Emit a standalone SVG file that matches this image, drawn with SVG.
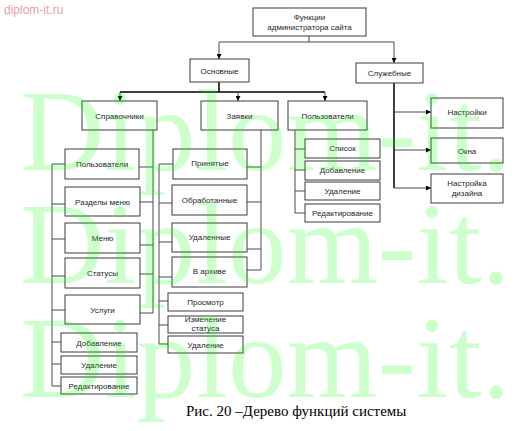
<svg xmlns="http://www.w3.org/2000/svg" width="516" height="431" viewBox="0 0 516 431">
<defs>
<style>
.box{fill:#fff;stroke:#3a3a3a;stroke-width:1}
.t{font-family:"Liberation Sans",Arial,sans-serif;font-size:8px;fill:#262626;text-anchor:middle}
.c{stroke:#4a4a4a;stroke-width:1;fill:none}
.ct{stroke:#000;stroke-width:1.5;fill:none}
.wm{font-family:"Liberation Serif","Times New Roman",serif;font-size:117px;fill:#00ff00;fill-opacity:0.2}
</style>
<marker id="ah" viewBox="0 0 6 6" refX="6" refY="3" markerWidth="5" markerHeight="5" markerUnits="userSpaceOnUse" orient="auto">
<path d="M0,0 L6,3 L0,6 z" fill="#000"/>
</marker>
</defs>
<rect width="516" height="431" fill="#fff"/>
<text x="4" y="14" style="font-family:'Liberation Sans',Arial,sans-serif;font-size:12px;fill:#e8a0a0">diplom-it.ru</text>

<g id="connectors">
<path class="c" d="M309,36 V42 M219,42 H394"/>
<path class="c" d="M219,42 V59" marker-end="url(#ah)"/>
<path class="c" d="M394,42 V63" marker-end="url(#ah)"/>
<path class="ct" d="M219,82 V92 M120,92 H325"/>
<path class="c" d="M120,92 V101" marker-end="url(#ah)"/>
<path class="c" d="M238,92 V101" marker-end="url(#ah)"/>
<path class="c" d="M325,92 V101" marker-end="url(#ah)"/>
<path class="ct" d="M394,83 V188"/>
<path class="c" d="M394,112 H431" marker-end="url(#ah)"/>
<path class="c" d="M394,150 H431" marker-end="url(#ah)"/>
<path class="c" d="M394,188 H431" marker-end="url(#ah)"/>
<path class="c" d="M153,130 V313 M139,167 H153 M140,202 H153 M140,245 H153 M140,274 H153 M140,313 H153"/>
<path class="c" d="M52,164 V386 M52,164 H65 M52,204 H65 M52,239 H65 M52,276 H65 M52,310 H65 M52,342 H61 M52,364 H61 M52,386 H61"/>
<path class="c" d="M261,130 V270 M247,167 H261 M247,202 H261 M247,249 H261 M247,270 H261"/>
<path class="c" d="M159,164 V344 M159,164 H173 M159,203 H172 M159,242 H172 M159,277 H172 M159,301 H168 M159,325 H168 M159,344 H168"/>
<path class="c" d="M295,130 V213 M295,149 H305 M295,170 H305 M295,191 H305 M295,213 H305"/>
</g>

<g id="n-root"><rect class="box" x="253" y="8" width="113" height="28"/><text class="t" x="309.5" y="20">Функции</text><text class="t" x="309.5" y="30">администратора сайта</text></g>
<g id="n-osn"><rect class="box" x="190" y="59" width="59" height="23"/><text class="t" x="219.5" y="73.5">Основные</text></g>
<g id="n-sluzh"><rect class="box" x="356" y="63" width="67" height="20"/><text class="t" x="389.5" y="76">Служебные</text></g>
<g id="n-sprav"><rect class="box" x="82" y="101" width="75" height="29"/><text class="t" x="119.5" y="118.5">Справочники</text></g>
<g id="n-zayav"><rect class="box" x="201" y="101" width="77" height="29"/><text class="t" x="239.5" y="118.5">Заявки</text></g>
<g id="n-polz"><rect class="box" x="288" y="101" width="79" height="29"/><text class="t" x="327.5" y="118.5">Пользователи</text></g>

<g id="n-s1"><rect class="box" x="65" y="149" width="74" height="30"/><text class="t" x="102" y="167">Пользователи</text></g>
<g id="n-s2"><rect class="box" x="65" y="187" width="75" height="29"/><text class="t" x="102.5" y="204.5">Разделы меню</text></g>
<g id="n-s3"><rect class="box" x="65" y="223" width="75" height="30"/><text class="t" x="102.5" y="241">Меню</text></g>
<g id="n-s4"><rect class="box" x="65" y="258" width="75" height="30"/><text class="t" x="102.5" y="276">Статусы</text></g>
<g id="n-s5"><rect class="box" x="65" y="295" width="75" height="29"/><text class="t" x="102.5" y="312.5">Услуги</text></g>
<g id="n-s6"><rect class="box" x="61" y="333" width="76" height="19"/><text class="t" x="99" y="345.5">Добавление</text></g>
<g id="n-s7"><rect class="box" x="61" y="356" width="76" height="18"/><text class="t" x="99" y="368">Удаление</text></g>
<g id="n-s8"><rect class="box" x="61" y="377" width="76" height="17"/><text class="t" x="99" y="388.5">Редактирование</text></g>

<g id="n-z1"><rect class="box" x="173" y="149" width="74" height="30"/><text class="t" x="210" y="166">Принятые</text></g>
<g id="n-z2"><rect class="box" x="172" y="185" width="75" height="30"/><text class="t" x="209.5" y="203">Обработанные</text></g>
<g id="n-z3"><rect class="box" x="172" y="223" width="75" height="29"/><text class="t" x="209.5" y="240">Удаленные</text></g>
<g id="n-z4"><rect class="box" x="172" y="257" width="75" height="30"/><text class="t" x="209.5" y="274">В архиве</text></g>
<g id="n-z5"><rect class="box" x="168" y="293" width="75" height="18"/><text class="t" x="205.5" y="304.5">Просмотр</text></g>
<g id="n-z6"><rect class="box" x="168" y="316" width="75" height="17"/><text class="t" x="205.5" y="322">Изменение</text><text class="t" x="205.5" y="331">статуса</text></g>
<g id="n-z7"><rect class="box" x="168" y="336" width="75" height="17"/><text class="t" x="205.5" y="347.5">Удаление</text></g>

<g id="n-p1"><rect class="box" x="305" y="139" width="75" height="19"/><text class="t" x="342.5" y="151">Список</text></g>
<g id="n-p2"><rect class="box" x="305" y="161" width="75" height="19"/><text class="t" x="342.5" y="173">Добавление</text></g>
<g id="n-p3"><rect class="box" x="305" y="182" width="75" height="18"/><text class="t" x="342.5" y="194">Удаление</text></g>
<g id="n-p4"><rect class="box" x="305" y="204" width="75" height="18"/><text class="t" x="342.5" y="216">Редактирование</text></g>

<g id="n-n1"><rect class="box" x="431" y="98" width="72" height="30"/><text class="t" x="467" y="115">Настройки</text></g>
<g id="n-n2"><rect class="box" x="431" y="138" width="72" height="25"/><text class="t" x="467" y="153.5">Окна</text></g>
<g id="n-n3"><rect class="box" x="431" y="174" width="72" height="29"/><text class="t" x="467" y="186">Настройка</text><text class="t" x="467" y="196">дизайна</text></g>

<text x="186" y="416" style="font-family:'Liberation Serif','Times New Roman',serif;font-size:15px;fill:#000">Рис. 20 –Дерево функций системы</text>

<g id="watermark">
<text class="wm" x="20" y="170">Diplom-it.</text>
<text class="wm" x="20" y="283">Diplom-it.</text>
<text class="wm" x="20" y="397">Diplom-it.</text>
</g>
</svg>
